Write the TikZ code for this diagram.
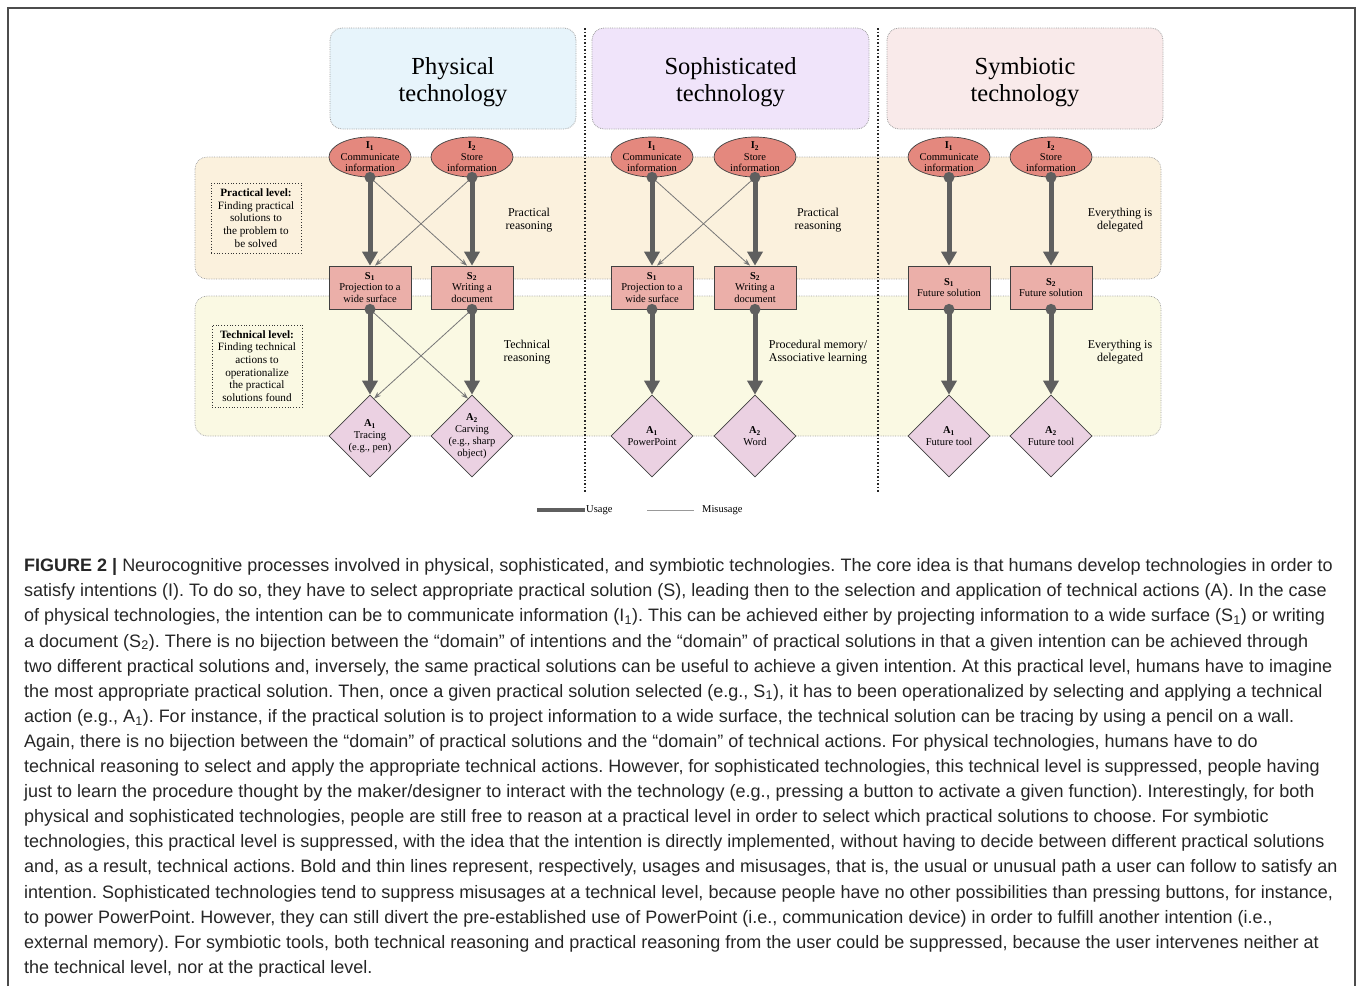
\documentclass[tikz,border=0pt]{standalone}
\usepackage{fontspec}
\setmainfont{Liberation Serif}
\newfontfamily\capfont{Liberation Sans}
\usepackage{xcolor}
\usetikzlibrary{arrows.meta,shapes.geometric}

\definecolor{physblue}{HTML}{E7F4FB}
\definecolor{sophlilac}{HTML}{F0E4FA}
\definecolor{symbpink}{HTML}{F9EAEA}
\definecolor{pracband}{HTML}{FBF1DD}
\definecolor{techband}{HTML}{FAF9E3}
\definecolor{intentred}{HTML}{E4887E}
\definecolor{solpink}{HTML}{EBAFA9}
\definecolor{actmauve}{HTML}{EBD1E2}
\definecolor{usegray}{HTML}{5F5F5F}
\definecolor{dotgray}{HTML}{A0A0A0}

\begin{document}
\frenchspacing
\begin{tikzpicture}[x=1pt,y=-1pt,
        titlebox/.style={draw=dotgray, densely dotted, line width=0.8pt, rounded corners=12pt, minimum height=101pt, align=center, font=\fontsize{24.5}{27.5}\selectfont},
        band/.style={draw=dotgray, densely dotted, line width=0.7pt, rounded corners=12pt},
        intent/.style={ellipse, draw=black!75, fill=intentred, line width=0.7pt, minimum width=82pt, minimum height=40pt, inner sep=-3pt, align=center, font=\fontsize{10.5}{11.5}\selectfont},
        solution/.style={rectangle, draw=black!75, fill=solpink, line width=0.7pt, minimum width=82pt, minimum height=43pt, inner sep=0pt, align=center, font=\fontsize{10.5}{11.8}\selectfont},
        action/.style={diamond, aspect=1, draw=black!75, fill=actmauve, line width=0.7pt, minimum width=82pt, minimum height=82pt, inner sep=-7pt, align=center, font=\fontsize{10.5}{11.8}\selectfont},
        levelbox/.style={draw=black!80, dotted, line width=0.8pt, minimum width=90pt, inner sep=2pt, align=center, font=\fontsize{11.2}{12.6}\selectfont},
        reason/.style={align=center, font=\fontsize{12}{13}\selectfont},
        usage/.style={draw=usegray, line width=5pt, -{Triangle[width=15pt,length=14pt]}},
        misusage/.style={draw=usegray!85, line width=0.8pt, -{Stealth[width=5pt,length=7pt]}},
        hub/.style={fill=usegray},
        divider/.style={draw=black!85, line width=1.5pt, dash pattern=on 1.5pt off 2pt},
    ]
    \useasboundingbox (0,0) rectangle (1358,986);
    % frame
    \draw[black!70, line width=1.8pt] (8,986) -- (8,8) -- (1355,8) -- (1355,986);

    % level bands
    \filldraw[band, fill=pracband] (195,157) rectangle (1161,279);
    \filldraw[band, fill=techband] (195,296) rectangle (1161,436);

    % titles
    \filldraw[titlebox, fill=physblue] (330,28) rectangle (576,129);
    \filldraw[titlebox, fill=sophlilac] (592,28) rectangle (869,129);
    \filldraw[titlebox, fill=symbpink] (887,28) rectangle (1163,129);
    \node[align=center, font=\fontsize{24.5}{27.5}\selectfont] (tphys) at (453,82) {Physical\\technology};
    \node[align=center, font=\fontsize{24.5}{27.5}\selectfont] (tsoph) at (730.5,82) {Sophisticated\\technology};
    \node[align=center, font=\fontsize{24.5}{27.5}\selectfont] (tsymb) at (1025,82) {Symbiotic\\technology};

    % level descriptions
    \node[levelbox, minimum height=70pt] (lprac) at (256,218) {\textbf{Practical level:}\\Finding practical\\solutions to\\the problem to\\be solved};
    \node[levelbox, minimum height=82pt] (ltech) at (257,366) {\textbf{Technical level:}\\Finding technical\\actions to\\operationalize\\the practical\\solutions found};

    % physical technology
    \node[intent] (pi1) at (370,157) {\textbf{I\textsubscript{1}}\\Communicate\\information};
    \node[intent] (pi2) at (472,157) {\textbf{I\textsubscript{2}}\\Store\\information};
    \node[solution] (ps1) at (370,287.5) {\textbf{S\textsubscript{1}}\\Projection to a\\wide surface};
    \node[solution] (ps2) at (472,287.5) {\textbf{S\textsubscript{2}}\\Writing a\\document};
    \node[action] (pa1) at (370,436) {\textbf{A\textsubscript{1}}\\Tracing\\(e.g., pen)};
    \node[action] (pa2) at (472,436) {\textbf{A\textsubscript{2}}\\Carving\\(e.g., sharp\\object)};
    \node[reason] (preas1) at (529,220) {Practical\\reasoning};
    \node[reason] (preas2) at (527,352) {Technical\\reasoning};

    % sophisticated technology
    \node[intent] (si1) at (652,157) {\textbf{I\textsubscript{1}}\\Communicate\\information};
    \node[intent] (si2) at (755,157) {\textbf{I\textsubscript{2}}\\Store\\information};
    \node[solution] (ss1) at (652,287.5) {\textbf{S\textsubscript{1}}\\Projection to a\\wide surface};
    \node[solution] (ss2) at (755,287.5) {\textbf{S\textsubscript{2}}\\Writing a\\document};
    \node[action] (sa1) at (652,436) {\textbf{A\textsubscript{1}}\\PowerPoint};
    \node[action] (sa2) at (755,436) {\textbf{A\textsubscript{2}}\\Word};
    \node[reason] (sreas1) at (818,220) {Practical\\reasoning};
    \node[reason] (sreas2) at (818,352) {Procedural memory/\\Associative learning};

    % symbiotic technology
    \node[intent] (yi1) at (949,157) {\textbf{I\textsubscript{1}}\\Communicate\\information};
    \node[intent] (yi2) at (1051,157) {\textbf{I\textsubscript{2}}\\Store\\information};
    \node[solution] (ys1) at (949,287.5) {\textbf{S\textsubscript{1}}\\Future solution};
    \node[solution] (ys2) at (1051,287.5) {\textbf{S\textsubscript{2}}\\Future solution};
    \node[action] (ya1) at (949,436) {\textbf{A\textsubscript{1}}\\Future tool};
    \node[action] (ya2) at (1051,436) {\textbf{A\textsubscript{2}}\\Future tool};
    \node[reason] (yreas1) at (1120,220) {Everything is\\delegated};
    \node[reason] (yreas2) at (1120,352) {Everything is\\delegated};

    % usages
    \foreach \c in {p,s,y}{
        \draw[usage] (\c i1.south) -- (\c s1.north);
        \draw[usage] (\c i2.south) -- (\c s2.north);
        \draw[usage] (\c s1.south) -- (\c a1.north);
        \draw[usage] (\c s2.south) -- (\c a2.north);
    }
    % misusages
    \draw[misusage] (pi1.south) -- ([xshift=-5pt]ps2.north);
    \draw[misusage] (pi2.south) -- ([xshift=5pt]ps1.north);
    \draw[misusage] (ps1.south) -- ([xshift=-4pt,yshift=-4pt]pa2.north);
    \draw[misusage] (ps2.south) -- ([xshift=4pt,yshift=-4pt]pa1.north);
    \draw[misusage] (si1.south) -- ([xshift=-5pt]ss2.north);
    \draw[misusage] (si2.south) -- ([xshift=5pt]ss1.north);
    % hubs
    \foreach \n in {pi1,pi2,ps1,ps2,si1,si2,ss1,ss2,yi1,yi2,ys1,ys2}
        \fill[hub] (\n.south) circle (5.5pt);

    % dividers
    \draw[divider] (585,28) -- (585,492);
    \draw[divider] (878,28) -- (878,492);

    % legend
    \coordinate (usestart) at (537,510);
    \coordinate (misstart) at (647,510);
    \node[anchor=west, inner sep=1pt, font=\fontsize{10.5}{12}\selectfont] (uselbl) at (585,510) {Usage};
    \node[anchor=west, inner sep=1pt, font=\fontsize{10.5}{12}\selectfont] (mislbl) at (701,510) {Misusage};
    \draw[usegray, line width=3.5pt] (usestart) -- (uselbl.west);
    \draw[black!40, line width=0.9pt] (misstart) -- ([xshift=-7pt]mislbl.west);

    % caption
    \node[anchor=north west, inner sep=0pt, align=left, font=\capfont\fontsize{18}{25.1}\selectfont, text=black!85] (caption) at (24,558.5) {%
        \textbf{FIGURE 2 |} Neurocognitive processes involved in physical, sophisticated, and symbiotic technologies. The core idea is that humans develop technologies in order to\\
        satisfy intentions (I). To do so, they have to select appropriate practical solution (S), leading then to the selection and application of technical actions (A). In the case\\
        of physical technologies, the intention can be to communicate information (I\textsubscript{1}). This can be achieved either by projecting information to a wide surface (S\textsubscript{1}) or writing\\
        a document (S\textsubscript{2}). There is no bijection between the “domain” of intentions and the “domain” of practical solutions in that a given intention can be achieved through\\
        two different practical solutions and, inversely, the same practical solutions can be useful to achieve a given intention. At this practical level, humans have to imagine\\
        the most appropriate practical solution. Then, once a given practical solution selected (e.g., S\textsubscript{1}), it has to been operationalized by selecting and applying a technical\\
        action (e.g., A\textsubscript{1}). For instance, if the practical solution is to project information to a wide surface, the technical solution can be tracing by using a pencil on a wall.\\
        Again, there is no bijection between the “domain” of practical solutions and the “domain” of technical actions. For physical technologies, humans have to do\\
        technical reasoning to select and apply the appropriate technical actions. However, for sophisticated technologies, this technical level is suppressed, people having\\
        just to learn the procedure thought by the maker/designer to interact with the technology (e.g., pressing a button to activate a given function). Interestingly, for both\\
        physical and sophisticated technologies, people are still free to reason at a practical level in order to select which practical solutions to choose. For symbiotic\\
        technologies, this practical level is suppressed, with the idea that the intention is directly implemented, without having to decide between different practical solutions\\
        and, as a result, technical actions. Bold and thin lines represent, respectively, usages and misusages, that is, the usual or unusual path a user can follow to satisfy an\\
        intention. Sophisticated technologies tend to suppress misusages at a technical level, because people have no other possibilities than pressing buttons, for instance,\\
        to power PowerPoint. However, they can still divert the pre-established use of PowerPoint (i.e., communication device) in order to fulfill another intention (i.e.,\\
        external memory). For symbiotic tools, both technical reasoning and practical reasoning from the user could be suppressed, because the user intervenes neither at\\
        the technical level, nor at the practical level.};
\end{tikzpicture}
\end{document}
